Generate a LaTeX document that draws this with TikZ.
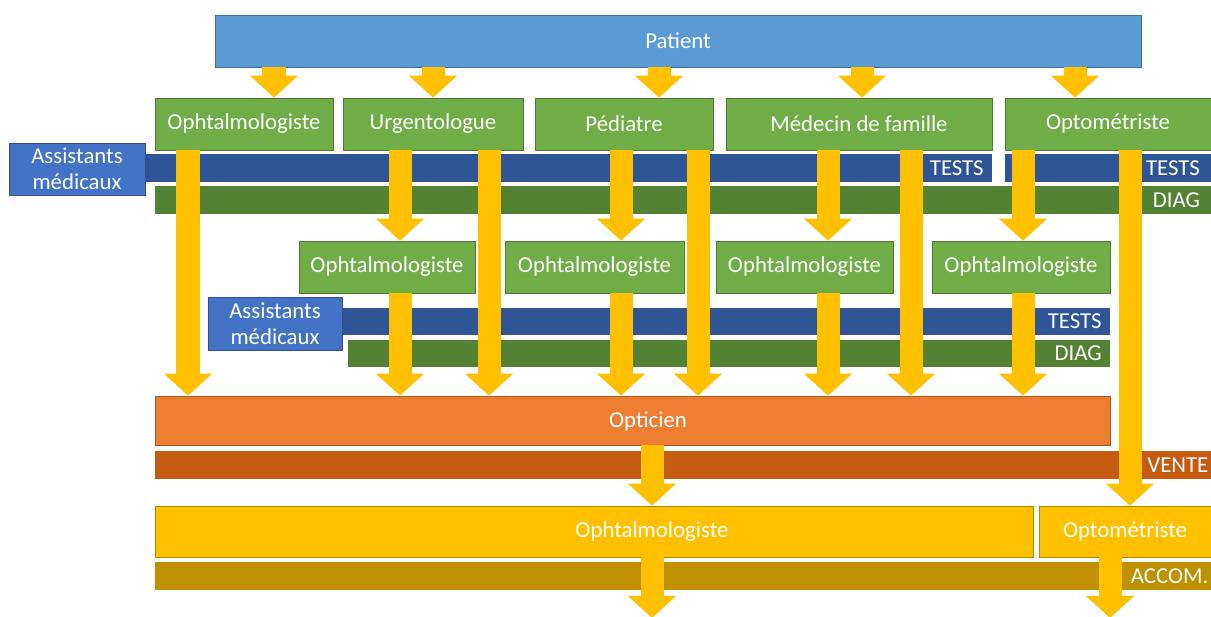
\documentclass[tikz,border=0pt]{standalone}
\usepackage{fontspec}
\setmainfont{Carlito}
\usetikzlibrary{arrows.meta}
\definecolor{patbleu}{HTML}{5B9BD5}
\definecolor{vert}{HTML}{70AD47}
\definecolor{testbleu}{HTML}{2F5597}
\definecolor{diagvert}{HTML}{548235}
\definecolor{assist}{HTML}{4472C4}
\definecolor{optic}{HTML}{ED7D31}
\definecolor{vente}{HTML}{C55A11}
\definecolor{jaune}{HTML}{FFC000}
\definecolor{accom}{HTML}{BF9000}
\newcommand\boxfont{\fontsize{16.2}{18.5}\selectfont}

\begin{document}
\begin{tikzpicture}[x=0.025cm,y=-0.025cm]
\tikzset{box/.style={draw=#1!70!black,line width=0.5pt,fill=#1,text=white,minimum height=1.3cm,inner sep=0pt,font=\boxfont},
  band/.style={fill=#1,minimum height=0.675cm,inner sep=0pt},
  tag/.style={text=white,anchor=east,inner xsep=#1,inner ysep=0pt,font=\boxfont},
  tag/.default=5pt,
  txt/.style={text=white,inner sep=0pt,font=\boxfont},
  flow/.style={jaune,line width=0.575cm,-{Triangle[width=1.175cm,length=0.55cm]}}}
\useasboundingbox (0,0) rectangle (1211,617);
\clip (0,0) rectangle (1211,617);

%bands
\node[band=testbleu,minimum width=21.175cm] (ts1) at (568.5,168) {};
\node[band=testbleu,minimum width=5.15cm] (ts2) at (1108,168) {};
\node[band=diagvert,minimum width=26.4cm] (dg1) at (683,200) {};
\node[band=testbleu,minimum width=19.2cm] (ts3) at (726,321.5) {};
\node[band=diagvert,minimum width=19.05cm] (dg2) at (729,353.5) {};
\node[band=vente,minimum width=26.4cm] (vt) at (683,465) {};
\node[band=accom,minimum width=26.4cm] (ac) at (683,576) {};
\node[tag=6pt] (ts1l) at (ts1.east) {TESTS};
\node[tag=8pt] (ts2l) at (ts2.east) {TESTS};
\node[tag=8pt] (dg1l) at (dg1.east) {DIAG};
\node[tag=6pt] (ts3l) at (ts3.east) {TESTS};
\node[tag=6pt] (dg2l) at (dg2.east) {DIAG};
\node[tag=2pt] (vtl) at (vt.east) {VENTE};
\node[tag=2pt] (acl) at (ac.east) {ACCOM.};

\node[box=patbleu,minimum width=23.15cm] (pat) at (678,41) {Patient};
\node[box=vert,minimum width=4.45cm] (o1) at (244,124) {Ophtalmologiste};
\node[box=vert,minimum width=4.5cm] (u1) at (433,124) {Urgentologue};
\node[box=vert,minimum width=4.45cm] (p1) at (624,124) {Pédiatre};
\node[box=vert,minimum width=6.65cm] (m1) at (859,124) {Médecin de famille};
\node[box=vert,minimum width=5.15cm] (t1) at (1108,124) {Optométriste};
\node[box=assist,minimum width=3.4cm,align=center] (as1) at (77,169) {Assistants\\médicaux};
\node[box=vert,minimum width=4.4cm] (o2a) at (387,267) {Ophtalmologiste};
\node[box=vert,minimum width=4.475cm] (o2b) at (594.5,267) {Ophtalmologiste};
\node[box=vert,minimum width=4.425cm] (o2c) at (804.5,267) {Ophtalmologiste};
\node[box=vert,minimum width=4.45cm] (o2d) at (1021,267) {Ophtalmologiste};
\node[box=assist,minimum width=3.35cm,minimum height=1.325cm,align=center] (as2) at (275,323.5) {Assistants\\médicaux};
\node[box=optic,minimum width=23.875cm,minimum height=1.225cm] (opt) at (632.5,420.5) {};
\node[txt] (optl) at (648,421) {Opticien};
\node[box=jaune,minimum width=21.95cm,minimum height=1.275cm] (o3) at (594,531.5) {};
\node[txt] (o3l) at (652,532) {Ophtalmologiste};
\node[box=jaune,minimum width=4.3cm,minimum height=1.275cm] (t3) at (1125,531.5) {Optométriste};

\foreach \x in {188,274,400,433,489,621,652,659,698,828,862,911,1023,1075,1110,1130}
  \coordinate (x\x) at (\x,0);
\coordinate (e1) at (652,618);
\coordinate (e2) at (1110,618);

\foreach \x/\s/\t in {274/pat/o1,433/pat/u1,659/pat/p1,862/pat/m1,1075/pat/t1,
  400/u1/o2a,621/p1/o2b,828/m1/o2c,1023/t1/o2d,
  188/o1/opt,489/u1/opt,698/p1/opt,911/m1/opt,
  400/o2a/opt,621/o2b/opt,828/o2c/opt,1023/o2d/opt,
  1130/t1/t3,652/opt/o3}
  \draw[flow] (\s.south -| x\x) -- (\t.north -| x\x);
\draw[flow] (o3.south -| x652) -- (e1);
\draw[flow] (t3.south -| x1110) -- (e2);
\end{tikzpicture}
\end{document}
